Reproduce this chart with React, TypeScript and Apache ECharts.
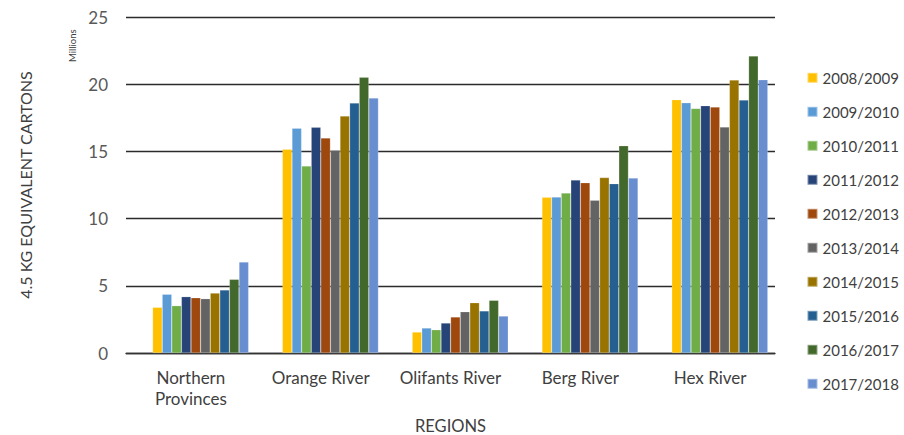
import React, { useEffect, useRef } from "react";
import * as echarts from "echarts";

const categories = ["Northern\nProvinces", "Orange River", "Olifants River", "Berg River", "Hex River"];
const seasons = ["2008/2009", "2009/2010", "2010/2011", "2011/2012", "2012/2013", "2013/2014", "2014/2015", "2015/2016", "2016/2017", "2017/2018"];
const colors = ["#FFC000", "#5B9BD5", "#70AD47", "#264478", "#9E480E", "#636363", "#997300", "#255E91", "#43682B", "#698ED0"];
const yTicks = { min: 0, max: 25, interval: 5 };

// values per season: [Northern Provinces, Orange River, Olifants River, Berg River, Hex River] (millions)
const v2008 = [3.4, 15.16, 1.56, 11.58, 18.85];
const v2009 = [4.37, 16.72, 1.86, 11.6, 18.62];
const v2010 = [3.52, 13.91, 1.73, 11.9, 18.2];
const v2011 = [4.19, 16.79, 2.23, 12.87, 18.4];
const v2012 = [4.11, 16.0, 2.68, 12.67, 18.3];
const v2013 = [4.04, 15.08, 3.07, 11.36, 16.82];
const v2014 = [4.46, 17.63, 3.74, 13.05, 20.31];
const v2015 = [4.69, 18.6, 3.13, 12.6, 18.82];
const v2016 = [5.48, 20.51, 3.92, 15.42, 22.1];
const v2017 = [6.77, 18.97, 2.75, 13.02, 20.33];
const seriesValues = [v2008, v2009, v2010, v2011, v2012, v2013, v2014, v2015, v2016, v2017];

const FONT = "Lato, 'Open Sans', sans-serif";
const TEXT = "#404040";

export default function App() {
  const ref = useRef<HTMLDivElement>(null);
  useEffect(() => {
    document.body.style.margin = "0";
    const chart = echarts.init(ref.current!, null, { renderer: "svg" });
    chart.setOption({
      animation: false,
      color: colors,
      textStyle: { fontFamily: FONT },
      grid: [
        { left: 126, right: 129, top: 17, bottom: 82, outerBoundsMode: "none", containLabel: false },
        // bars are drawn shifted right by one bar width, as in the reference
        { left: 135.7, right: 119.3, top: 17, bottom: 82, outerBoundsMode: "none", containLabel: false },
      ],
      legend: {
        orient: "vertical",
        left: 806.5,
        top: 69.3,
        padding: 0,
        itemWidth: 10,
        itemHeight: 10,
        itemGap: 17,
        icon: "rect",
        textStyle: { fontSize: 15, color: TEXT, fontFamily: FONT, lineHeight: 17 },
        data: seasons,
      },
      xAxis: [
        {
          type: "category",
          gridIndex: 0,
          data: categories,
          name: "REGIONS",
          nameLocation: "middle",
          nameGap: 64,
          nameTextStyle: { fontSize: 16.5, color: TEXT, fontFamily: FONT },
          axisLine: { lineStyle: { color: "#333333", width: 1.4 } },
          axisTick: { show: false },
          axisLabel: { interval: 0, fontSize: 17, color: TEXT, margin: 13.5, lineHeight: 21, fontFamily: FONT },
        },
        {
          type: "category",
          gridIndex: 1,
          data: categories,
          show: false,
        },
      ],
      yAxis: [
        {
          type: "value",
          gridIndex: 0,
          ...yTicks,
          name: "4.5 KG EQUIVALENT CARTONS",
          nameLocation: "middle",
          nameGap: 93,
          nameRotate: 90,
          nameTextStyle: { fontSize: 16, color: TEXT, fontFamily: FONT },
          axisLine: { show: false },
          axisTick: { show: false },
          axisLabel: { fontSize: 17, color: "#595959", margin: 18, fontFamily: FONT },
          splitLine: { lineStyle: { color: "#2b2b2b", width: 1.3 } },
        },
        {
          type: "value",
          gridIndex: 1,
          ...yTicks,
          show: false,
          splitLine: { show: false },
        },
      ],
      graphic: [
        {
          type: "text",
          x: 67,
          y: 62,
          rotation: Math.PI / 2,
          style: { text: "Millions", fontSize: 9.5, fill: TEXT, fontFamily: FONT },
        },
      ],
      series: seriesValues.map((vals, i) => ({
        name: seasons[i],
        type: "bar",
        xAxisIndex: 1,
        yAxisIndex: 1,
        data: vals,
        barGap: "0%",
        barCategoryGap: "26%",
        itemStyle: { borderColor: "rgba(255,255,255,0.4)", borderWidth: 0.5 },
      })),
    });
    return () => chart.dispose();
  }, []);
  return <div ref={ref} style={{ width: 904, height: 435 }} />;
}
